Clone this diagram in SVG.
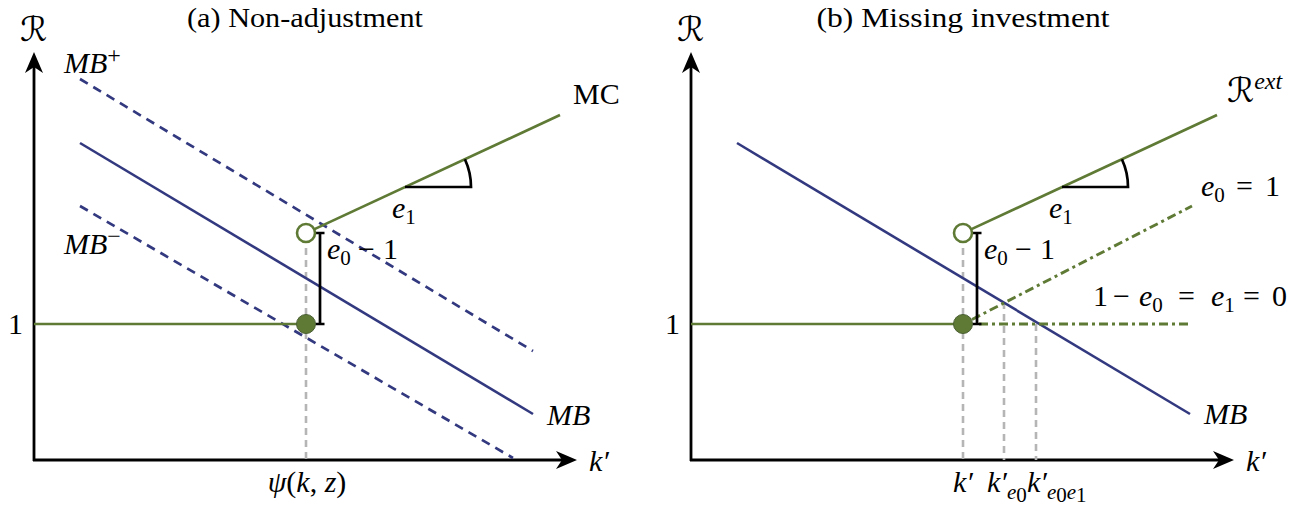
<svg xmlns="http://www.w3.org/2000/svg" width="1303" height="512" viewBox="0 0 1303 512">
<style>
text{font-family:"Liberation Serif","DejaVu Serif",serif;font-size:30px;fill:#000}
.t{font-size:28px}
.m{font-style:italic}
.r{font-style:normal}
.cal{font-family:"DejaVu Serif","DejaVu Sans",serif;font-style:italic;font-size:34px}
.sub{font-size:21px;font-style:normal}
.subi{font-size:21px;font-style:italic}
.sup{font-size:24px}
.ax{stroke:#000;stroke-width:2.8;fill:none}
.mb{stroke:#33397f;stroke-width:2.6;fill:none}
.mbd{stroke:#33397f;stroke-width:2.7;fill:none;stroke-dasharray:9 6.5}
.gr{stroke:#5f7a35;stroke-width:2.7;fill:none}
.grd{stroke:#5f7a35;stroke-width:2.9;fill:none;stroke-dasharray:9 4 3 4}
.gy{stroke:#b5b5b5;stroke-width:2.6;fill:none;stroke-dasharray:7 5}
.blk{stroke:#000;stroke-width:2.7;fill:none}
.dot{fill:#5f7a35;stroke:#4a5f33;stroke-width:1}
.odot{fill:#fff;stroke:#5f7a35;stroke-width:2.6}
</style>
<defs>
<marker id="arr" viewBox="-8 -10 26 20" refX="0" refY="0" markerWidth="26" markerHeight="20" markerUnits="userSpaceOnUse" orient="auto">
<path d="M15,0 L-6,-9 L0,0 L-6,9 Z" fill="#000"/>
</marker>
</defs>

<g id="panel-a">
<text x="305" y="27" text-anchor="middle" class="r t" textLength="236" lengthAdjust="spacingAndGlyphs">(a) Non-adjustment</text>
<g id="a-axes">
<line class="ax" x1="34" y1="461" x2="34" y2="67" marker-end="url(#arr)"/>
<line class="ax" x1="33" y1="460" x2="562" y2="460" marker-end="url(#arr)"/>
<text x="20" y="41" class="cal">ℛ</text>
<text x="589" y="471" class="m">k′</text>
<text x="8" y="334" class="r">1</text>
<text x="307" y="492" class="m" text-anchor="middle">ψ<tspan class="r">(</tspan>k<tspan class="r">, </tspan>z<tspan class="r">)</tspan></text>
</g>
<g id="a-guides">
<line class="gy" x1="306" y1="236" x2="306" y2="460"/>
</g>
<g id="a-mb">
<line class="mbd" x1="80" y1="79" x2="533" y2="351"/>
<line class="mb" x1="80" y1="143" x2="533" y2="414"/>
<line class="mbd" x1="80" y1="206" x2="513" y2="458"/>
<text x="64" y="73" class="m">MB<tspan class="sup r" dy="-10">+</tspan></text>
<text x="64" y="254" class="m">MB<tspan class="sup r" dy="-10">−</tspan></text>
<text x="547" y="425" class="m">MB</text>
</g>
<g id="a-mc">
<line class="gr" x1="34" y1="324" x2="306" y2="324"/>
<line class="gr" x1="314.5" y1="229.1" x2="560" y2="115"/>
<path class="blk" d="M405 187 H471 A66 66 0 0 0 464.9 159.2" stroke-width="2.9"/>
<text x="573" y="104" class="r">MC</text>
<text x="392" y="218" class="m">e<tspan class="sub" dy="6">1</tspan></text>
</g>
<g id="a-gap">
<path class="blk" d="M320 233 V324 M315.5 233 H324.5 M315.5 324 H324.5"/>
<text y="259" class="m"><tspan x="327">e</tspan><tspan class="sub" dy="6">0</tspan><tspan class="r" x="358" dy="-6">−</tspan><tspan class="r" x="383">1</tspan></text>
</g>
<g id="a-points">
<circle class="dot" cx="306" cy="324" r="9.5"/>
<circle class="odot" cx="306" cy="233" r="9"/>
</g>
</g>

<g id="panel-b">
<text x="963" y="27" text-anchor="middle" class="r t" textLength="293" lengthAdjust="spacingAndGlyphs">(b) Missing investment</text>
<g id="b-axes">
<line class="ax" x1="691" y1="461" x2="691" y2="67" marker-end="url(#arr)"/>
<line class="ax" x1="690" y1="460" x2="1219" y2="460" marker-end="url(#arr)"/>
<text x="677" y="41" class="cal">ℛ</text>
<text x="1246" y="471" class="m">k′</text>
<text x="665" y="334" class="r">1</text>
<text x="963" y="492" class="m" text-anchor="middle">k′</text>
<text x="987" y="492" class="m">k′<tspan class="subi" dy="7">e</tspan><tspan class="sub" font-size="16" dy="3">0</tspan></text>
<text x="1027" y="492" class="m">k′<tspan class="subi" dy="7">e</tspan><tspan class="sub" font-size="16" dy="3">0</tspan><tspan class="subi" dy="-3">e</tspan><tspan class="sub" font-size="16" dy="3">1</tspan></text>
</g>
<g id="b-guides">
<line class="gy" x1="963" y1="236" x2="963" y2="460"/>
<line class="gy" x1="1004" y1="302" x2="1004" y2="460"/>
<line class="gy" x1="1036" y1="324" x2="1036" y2="460"/>
</g>
<g id="b-mb">
<line class="mb" x1="737" y1="143" x2="1190" y2="414"/>
<text x="1204" y="424" class="m">MB</text>
</g>
<g id="b-alt">
<line class="grd" x1="972" y1="319.5" x2="1192" y2="206"/>
<line class="grd" x1="979" y1="324" x2="1190" y2="324"/>
<text y="196" class="m"><tspan x="1201">e</tspan><tspan class="sub" dy="6">0</tspan><tspan class="r" x="1236" dy="-6">=</tspan><tspan class="r" x="1265">1</tspan></text>
<text y="306" class="m"><tspan class="r" x="1093">1</tspan><tspan class="r" x="1113">−</tspan><tspan x="1139">e</tspan><tspan class="sub" dy="6">0</tspan><tspan class="r" x="1178" dy="-6">=</tspan><tspan x="1211">e</tspan><tspan class="sub" dy="6">1</tspan><tspan class="r" x="1243" dy="-6">=</tspan><tspan class="r" x="1272">0</tspan></text>
</g>
<g id="b-ext">
<line class="gr" x1="691" y1="324" x2="963" y2="324"/>
<line class="gr" x1="971.5" y1="229.1" x2="1217" y2="115"/>
<path class="blk" d="M1062 187 H1128 A66 66 0 0 0 1121.9 159.2" stroke-width="2.9"/>
<text x="1227" y="102" class="cal">ℛ<tspan class="sup m" style="font-family:'Liberation Serif',serif" dy="-13">ext</tspan></text>
<text x="1049" y="218" class="m">e<tspan class="sub" dy="6">1</tspan></text>
</g>
<g id="b-gap">
<path class="blk" d="M977 233 V324 M972.5 233 H981.5 M972.5 324 H981.5"/>
<text y="259" class="m"><tspan x="984">e</tspan><tspan class="sub" dy="6">0</tspan><tspan class="r" x="1015" dy="-6">−</tspan><tspan class="r" x="1040">1</tspan></text>
</g>
<g id="b-points">
<circle class="dot" cx="963" cy="324" r="9.5"/>
<circle class="odot" cx="963" cy="233" r="9"/>
</g>
</g>
</svg>
